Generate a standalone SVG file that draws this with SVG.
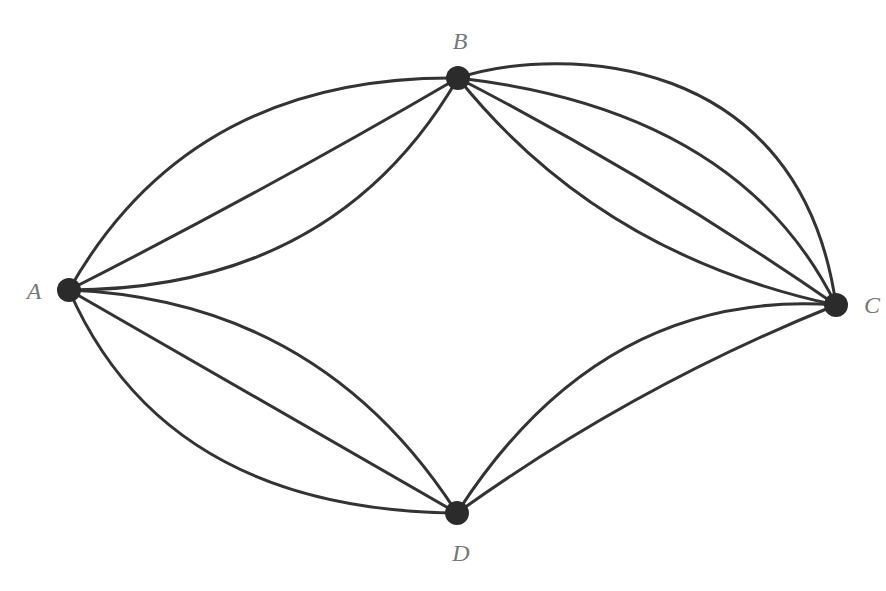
<svg xmlns="http://www.w3.org/2000/svg" width="886" height="591" viewBox="0 0 886 591">
<style>
.e{fill:none;stroke:#333;stroke-width:3;stroke-linecap:round}
.n{fill:#2b2b2b}
.l{font-family:"Liberation Serif",serif;font-style:italic;font-size:24px;fill:#777;text-anchor:middle}
</style>
<rect width="886" height="591" fill="#fff"/>
<g id="connectors">
<path class="e" d="M69,290 Q190,75 458,78"/>
<path class="e" d="M69,290 Q268,189 458,78"/>
<path class="e" d="M69,290 Q335,290 458,78"/>
<path class="e" d="M458,78 C560,45 800,50 836,305"/>
<path class="e" d="M458,78 Q740,110 836,305"/>
<path class="e" d="M458,78 Q654,179 836,305"/>
<path class="e" d="M458,78 Q600,255 836,305"/>
<path class="e" d="M69,290 Q320,300 457,513"/>
<path class="e" d="M69,290 L457,513"/>
<path class="e" d="M69,290 Q165,510 457,513"/>
<path class="e" d="M457,513 Q601,288 836,305"/>
<path class="e" d="M457,513 Q634,386 836,305"/>
</g>
<g id="node-A"><circle class="n" cx="69" cy="290" r="12"/><text class="l" x="34" y="299">A</text></g>
<g id="node-B"><circle class="n" cx="458" cy="78" r="12"/><text class="l" x="460" y="49">B</text></g>
<g id="node-C"><circle class="n" cx="836" cy="305" r="12"/><text class="l" x="872" y="313">C</text></g>
<g id="node-D"><circle class="n" cx="457" cy="513" r="12"/><text class="l" x="461" y="561">D</text></g>
</svg>
